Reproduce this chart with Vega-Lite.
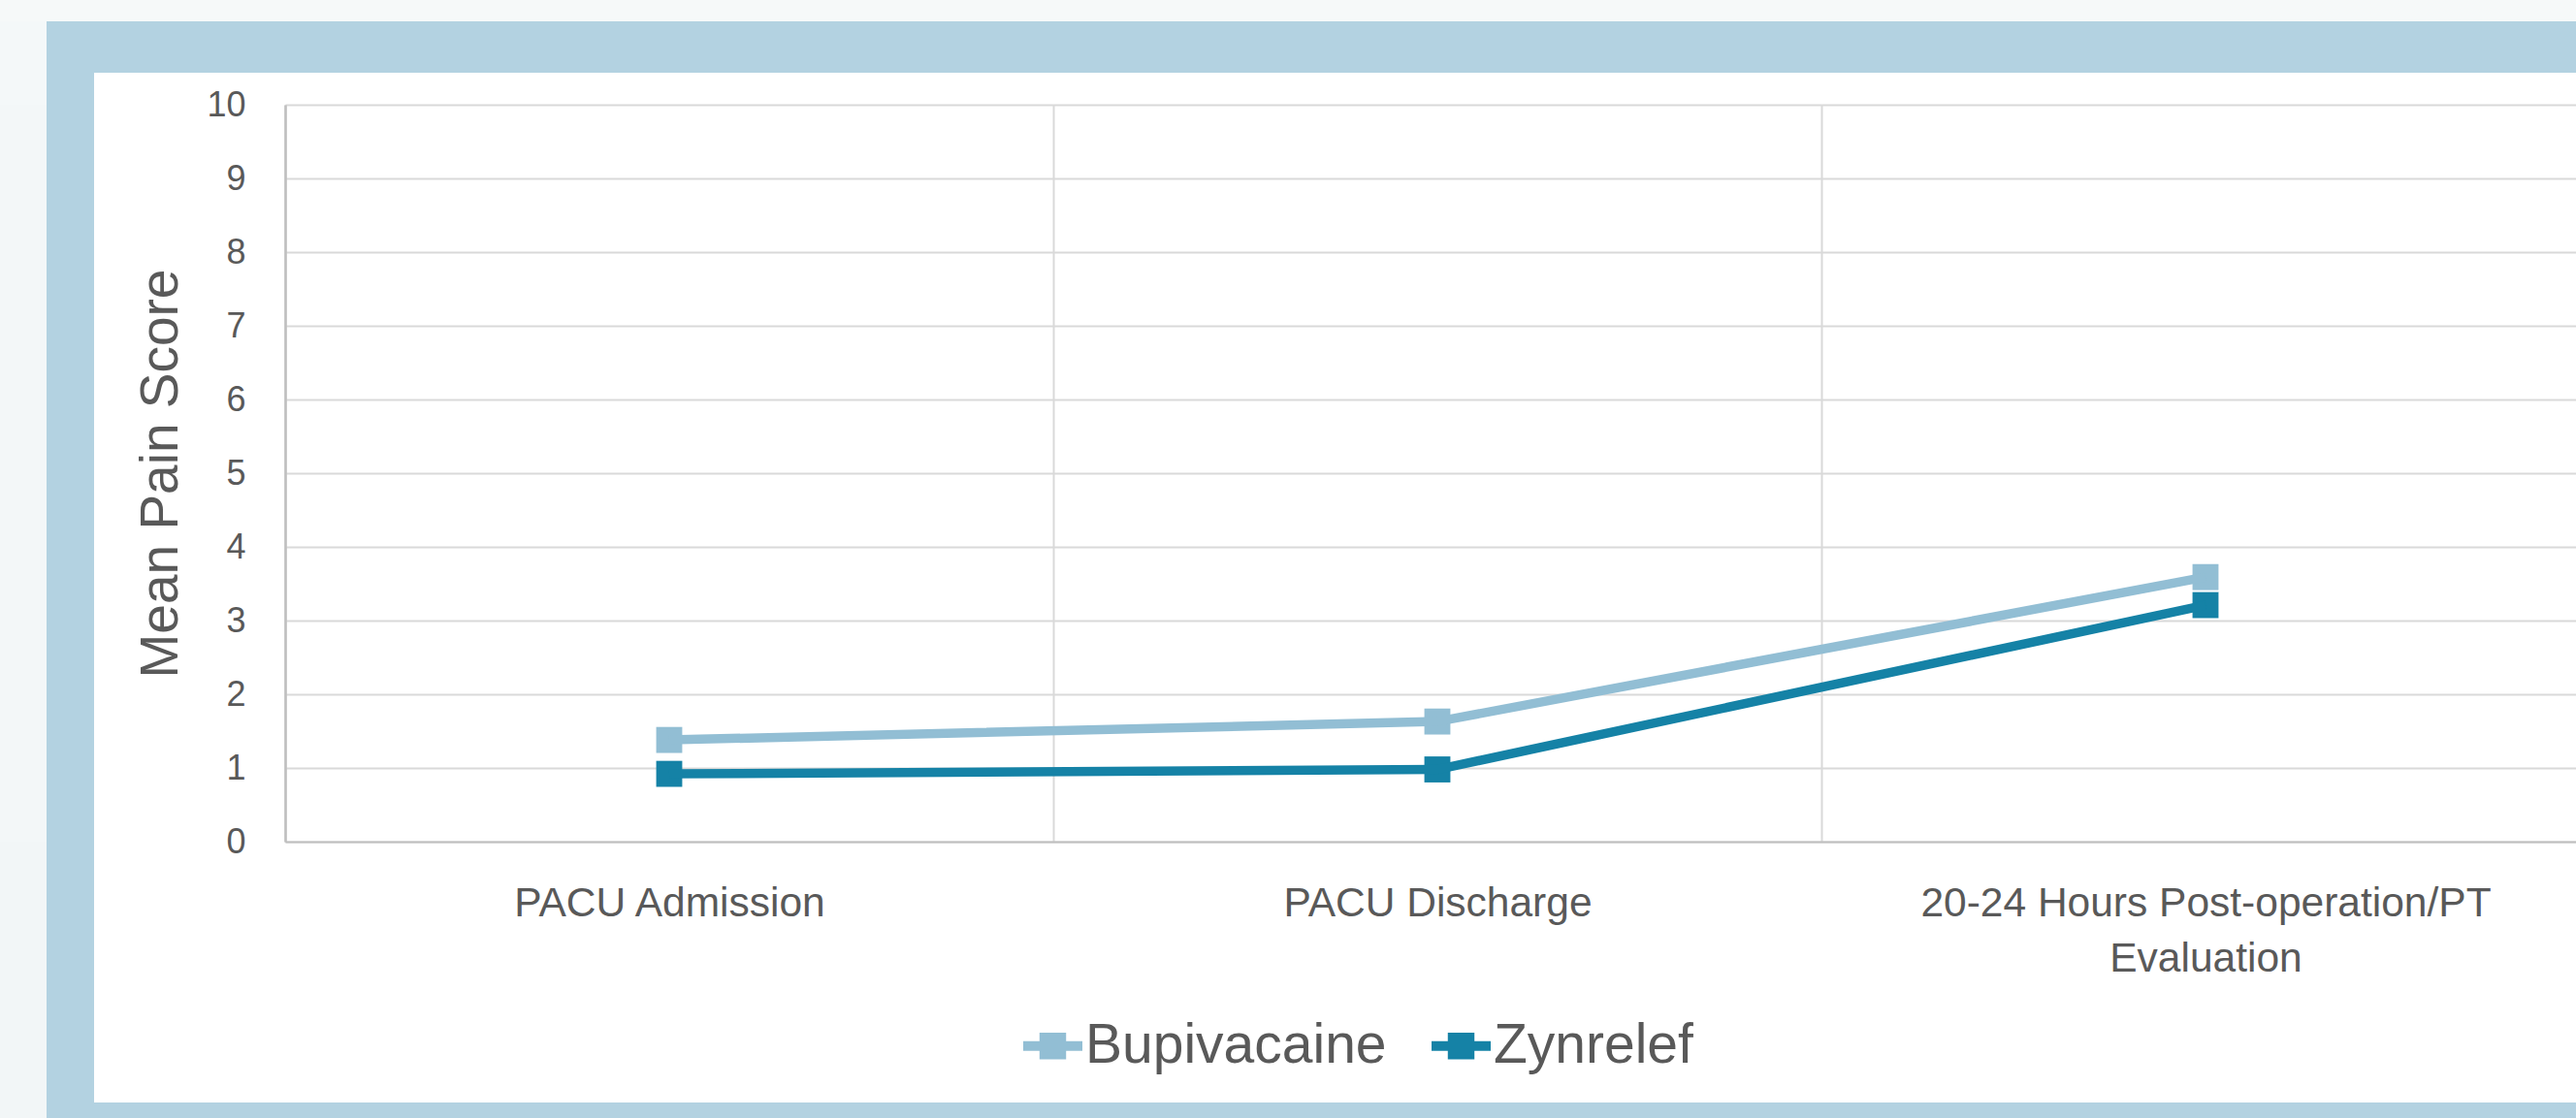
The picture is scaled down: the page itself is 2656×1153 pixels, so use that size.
{
  "$schema": "https://vega.github.io/schema/vega-lite/v6.json",
  "background": "#ffffff",
  "padding": 0,
  "config": {
    "font": "Liberation Sans",
    "view": {"stroke": null},
    "concat": {"spacing": 0}
  },
  "columns": 4,
  "bounds": "flush",
  "spacing": 0,
  "concat": [
    {"width": 48, "height": 22, "view": {"fill": "#f6f9f9", "stroke": null}, "data": {"values": []}, "mark": "point", "encoding": {}},
    {"width": 49, "height": 22, "view": {"fill": "#f6f9f9", "stroke": null}, "data": {"values": []}, "mark": "point", "encoding": {}},
    {"width": 197, "height": 22, "view": {"fill": "#f6f9f9", "stroke": null}, "data": {"values": []}, "mark": "point", "encoding": {}},
    {"width": 2376, "height": 22, "view": {"fill": "#f6f9f9", "stroke": null}, "data": {"values": []}, "mark": "point", "encoding": {}},

    {"width": 48, "height": 53, "view": {"fill": "#f4f8f9", "stroke": null}, "data": {"values": []}, "mark": "point", "encoding": {}},
    {"width": 49, "height": 53, "view": {"fill": "#b3d2e1", "stroke": null}, "data": {"values": []}, "mark": "point", "encoding": {}},
    {"width": 197, "height": 53, "view": {"fill": "#b3d2e1", "stroke": null}, "data": {"values": []}, "mark": "point", "encoding": {}},
    {"width": 2376, "height": 53, "view": {"fill": "#b3d2e1", "stroke": null}, "data": {"values": []}, "mark": "point", "encoding": {}},

    {"width": 48, "height": 33, "view": {"fill": "#f4f8f9", "stroke": null}, "data": {"values": []}, "mark": "point", "encoding": {}},
    {"width": 49, "height": 33, "view": {"fill": "#b3d2e1", "stroke": null}, "data": {"values": []}, "mark": "point", "encoding": {}},
    {"width": 197, "height": 33, "view": {"stroke": null}, "data": {"values": []}, "mark": "point", "encoding": {}},
    {"width": 2376, "height": 33, "view": {"stroke": null}, "data": {"values": []}, "mark": "point", "encoding": {}},

    {"width": 48, "height": 760, "view": {"fill": "#f3f7f8", "stroke": null}, "data": {"values": []}, "mark": "point", "encoding": {}},
    {"width": 49, "height": 760, "view": {"fill": "#b3d2e1", "stroke": null}, "data": {"values": []}, "mark": "point", "encoding": {}},
    {"width": 197, "height": 760, "view": {"stroke": null}, "data": {"values": []}, "mark": "point", "encoding": {}},
    {
      "width": 2376,
      "height": 760,
      "view": {"stroke": null},
      "data": {
        "values": [
          {"timepoint": "PACU Admission", "group": "Bupivacaine", "score": 1.38},
          {"timepoint": "PACU Discharge", "group": "Bupivacaine", "score": 1.63},
          {"timepoint": "20-24 Hours Post-operation/PT Evaluation", "group": "Bupivacaine", "score": 3.59},
          {"timepoint": "PACU Admission", "group": "Zynrelef", "score": 0.92},
          {"timepoint": "PACU Discharge", "group": "Zynrelef", "score": 0.98},
          {"timepoint": "20-24 Hours Post-operation/PT Evaluation", "group": "Zynrelef", "score": 3.21}
        ]
      },
      "encoding": {
        "x": {
          "field": "timepoint",
          "type": "nominal",
          "sort": ["PACU Admission", "PACU Discharge", "20-24 Hours Post-operation/PT Evaluation"],
          "bandPosition": 0.5,
          "scale": {"type": "band", "paddingInner": 0, "paddingOuter": 0},
          "axis": {
            "title": null,
            "tickBand": "extent",
            "grid": true,
            "gridColor": "#d9d9d9",
            "gridWidth": 2,
            "domain": true,
            "domainColor": "#bfbfbf",
            "domainWidth": 2,
            "ticks": false,
            "tickSize": 0,
            "labelAngle": 0,
            "labelFont": "Liberation Sans",
            "labelFontSize": 42.5,
            "labelColor": "#595959",
            "labelPadding": 42,
            "labelBaseline": "top",
            "labelLineHeight": 57,
            "labelLimit": 2000,
            "labelOverlap": false,
            "labelBound": false,
            "labelExpr": "datum.label == '20-24 Hours Post-operation/PT Evaluation' ? ['20-24 Hours Post-operation/PT', 'Evaluation'] : datum.label"
          }
        },
        "y": {
          "field": "score",
          "type": "quantitative",
          "scale": {"domain": [0, 10], "nice": false, "zero": true},
          "axis": {
            "title": "Mean Pain Score",
            "titleFont": "Liberation Sans",
            "titleFontSize": 55,
            "titleFontWeight": "normal",
            "titleColor": "#595959",
            "titlePadding": 18,
            "values": [0, 1, 2, 3, 4, 5, 6, 7, 8, 9, 10],
            "grid": true,
            "gridColor": "#d9d9d9",
            "gridWidth": 2,
            "domain": true,
            "domainColor": "#bfbfbf",
            "domainWidth": 2.5,
            "ticks": false,
            "tickSize": 0,
            "labelFont": "Liberation Sans",
            "labelFontSize": 36,
            "labelColor": "#595959",
            "labelPadding": 41,
            "labelOverlap": false
          }
        },
        "color": {
          "field": "group",
          "type": "nominal",
          "scale": {"domain": ["Bupivacaine", "Zynrelef"], "range": ["#92bed4", "#1582a6"]},
          "legend": {
            "title": null,
            "orient": "none",
            "legendX": 1055,
            "legendY": 1048,
            "direction": "horizontal",
            "padding": 0,
            "symbolType": "M-1,-0.164L1,-0.164L1,0.164L-1,0.164Z M-0.45,-0.45L0.45,-0.45L0.45,0.45L-0.45,0.45Z",
            "symbolSize": 3721,
            "symbolStrokeWidth": 0,
            "symbolOpacity": 1,
            "labelFont": "Liberation Sans",
            "labelFontSize": 57,
            "labelColor": "#595959",
            "labelOffset": 3,
            "labelLimit": 2000,
            "columnPadding": 46
          }
        }
      },
      "layer": [
        {
          "mark": {"type": "point", "shape": "square", "filled": true, "opacity": 1, "size": 720}
        },
        {
          "mark": {"type": "line", "strokeWidth": 9.5}
        }
      ]
    },

    {"width": 48, "height": 269, "view": {"fill": "#f2f6f7", "stroke": null}, "data": {"values": []}, "mark": "point", "encoding": {}},
    {"width": 49, "height": 269, "view": {"fill": "#b3d2e1", "stroke": null}, "data": {"values": []}, "mark": "point", "encoding": {}},
    {"width": 197, "height": 269, "view": {"stroke": null}, "data": {"values": []}, "mark": "point", "encoding": {}},
    {"width": 2376, "height": 269, "view": {"stroke": null}, "data": {"values": []}, "mark": "point", "encoding": {}},

    {"width": 48, "height": 16, "view": {"fill": "#f2f6f7", "stroke": null}, "data": {"values": []}, "mark": "point", "encoding": {}},
    {"width": 49, "height": 16, "view": {"fill": "#b3d2e1", "stroke": null}, "data": {"values": []}, "mark": "point", "encoding": {}},
    {"width": 197, "height": 16, "view": {"fill": "#b3d2e1", "stroke": null}, "data": {"values": []}, "mark": "point", "encoding": {}},
    {"width": 2376, "height": 16, "view": {"fill": "#b3d2e1", "stroke": null}, "data": {"values": []}, "mark": "point", "encoding": {}}
  ]
}
